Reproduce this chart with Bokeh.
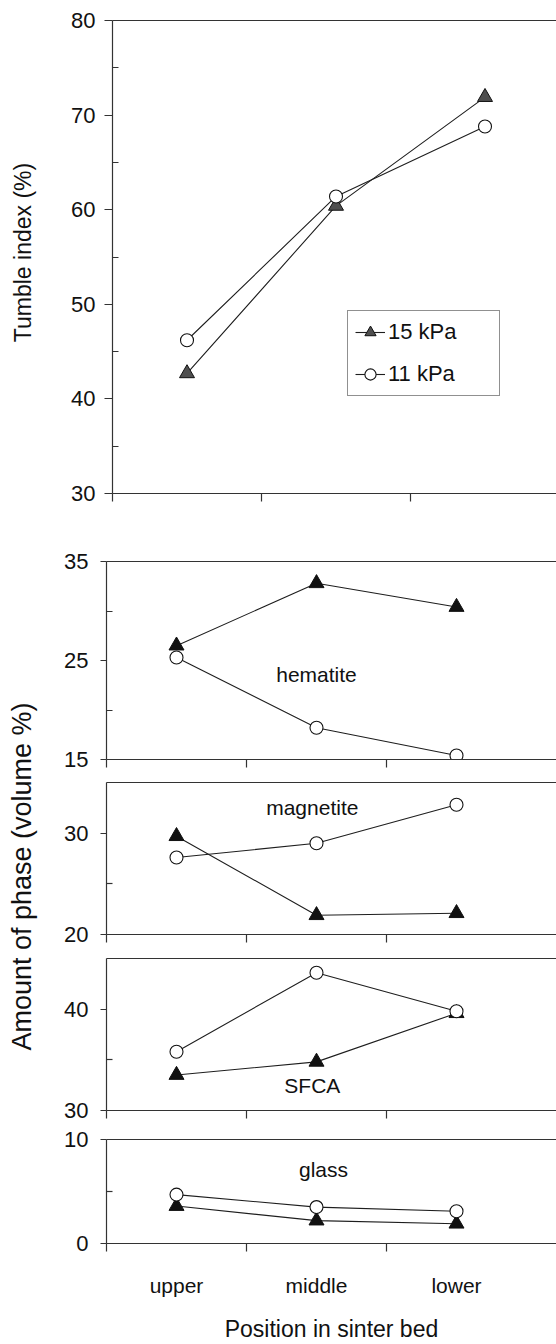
from bokeh.plotting import figure
from bokeh.layouts import column, row
from bokeh.models import Range1d, FixedTicker, Label, Legend, LegendItem, LinearAxis, Spacer
from bokeh.embed import file_html
from bokeh.resources import INLINE
import math

# ---------------- data ----------------
positions = ["upper", "middle", "lower"]
xpos = [1, 2, 3]
series_names = ["15 kPa", "11 kPa"]

tumble_15 = [42.7, 60.4, 71.9]
tumble_11 = [46.2, 61.4, 68.8]
hematite_15 = [26.5, 32.8, 30.4]
hematite_11 = [25.3, 18.2, 15.4]
magnetite_15 = [29.7, 21.9, 22.1]
magnetite_11 = [27.6, 29.0, 32.8]
sfca_15 = [33.5, 34.8, 39.6]
sfca_11 = [35.8, 43.6, 39.8]
glass_15 = [3.6, 2.2, 1.9]
glass_11 = [4.7, 3.5, 3.1]

y_title_top = "Tumble index (%)"
y_title_phase = "Amount of phase (volume %)"
x_title = "Position in sinter bed"

# ---------------- style ----------------
FONT = "Liberation Sans"
INK = "#1e1e1e"
AX = "#333333"
W_LEFT = 48
W = 508
SHIFT1 = 6      # extra left offset of the top panel
BORDER_L = 58

panels = [
    dict(name=None, s15=tumble_15, s11=tumble_11, y=(30, 80),
         major=[30, 40, 50, 60, 70, 80], minor=[35, 45, 55, 65, 75],
         top=20, h=520, bottom=27, unit=149, tri="#4f4f4f", tick_out=8, standoff=9),
    dict(name="hematite", lab=(2.0, 23.6), s15=hematite_15, s11=hematite_11, y=(15, 35),
         major=[15, 25, 35], minor=[20, 30],
         top=41, h=252, bottom=13, unit=140, tri="#111111", tick_out=6, standoff=12),
    dict(name="magnetite", lab=(1.97, 32.5), s15=magnetite_15, s11=magnetite_11, y=(20, 35),
         major=[20, 30], minor=[25],
         top=10, h=176, bottom=14, unit=140, tri="#111111", tick_out=6, standoff=12),
    dict(name="SFCA", lab=(1.97, 32.5), s15=sfca_15, s11=sfca_11, y=(30, 45),
         major=[30, 40], minor=[35],
         top=10, h=177, bottom=15, unit=140, tri="#111111", tick_out=6, standoff=12),
    dict(name="glass", lab=(2.05, 7.1), s15=glass_15, s11=glass_11, y=(0, 10),
         major=[0, 10], minor=[5],
         top=14, h=219, bottom=101, unit=140, tri="#111111", tick_out=6, standoff=12),
]


def style_axis(ax):
    ax.axis_line_color = AX
    ax.axis_line_width = 1.2
    ax.major_tick_line_color = AX
    ax.minor_tick_line_color = AX
    ax.major_tick_line_width = 1.2
    ax.minor_tick_line_width = 1.2
    ax.major_label_text_font = FONT
    ax.major_label_text_color = "#111111"


rows = []
for i, cfg in enumerate(panels):
    last = i == len(panels) - 1
    width = W - (SHIFT1 if i == 0 else 0)
    fw = width - BORDER_L
    x_end = 0.5 + fw / cfg["unit"]
    p = figure(width=width, height=cfg["h"],
               x_range=Range1d(0.5, x_end), y_range=Range1d(*cfg["y"]),
               x_axis_type=None, y_axis_type=None,
               output_backend="svg", toolbar_location=None,
               min_border_left=BORDER_L, min_border_right=0,
               min_border_top=cfg["top"], min_border_bottom=cfg["bottom"])
    p.outline_line_color = None
    p.background_fill_color = "white"
    p.border_fill_color = "white"

    # left axis
    yax = LinearAxis(ticker=FixedTicker(ticks=cfg["major"], minor_ticks=cfg["minor"]))
    style_axis(yax)
    yax.major_tick_in = 0
    yax.major_tick_out = cfg["tick_out"]
    yax.minor_tick_in = 6
    yax.minor_tick_out = 0
    yax.major_label_standoff = cfg["standoff"]
    yax.major_label_text_font_size = "22px"
    p.add_layout(yax, "left")

    # bottom axis
    xax = LinearAxis(ticker=FixedTicker(ticks=xpos if last else [],
                                        minor_ticks=[0.5, 1.5, 2.5]))
    style_axis(xax)
    xax.major_tick_in = 0
    xax.major_tick_out = 0
    xax.minor_tick_in = 0
    xax.minor_tick_out = 8
    if last:
        xax.major_label_overrides = {x: lab for x, lab in zip(xpos, positions)}
        xax.major_label_text_font_size = "21px"
        xax.major_label_standoff = 22
        xax.axis_label = x_title
        xax.axis_label_text_font = FONT
        xax.axis_label_text_font_size = "23px"
        xax.axis_label_text_font_style = "normal"
        xax.axis_label_text_color = "#111111"
        xax.axis_label_standoff = 16
    else:
        xax.major_label_text_font_size = "0px"
        xax.major_label_standoff = 0
    p.add_layout(xax, "below")

    # top frame line
    tax = LinearAxis(ticker=FixedTicker(ticks=[], minor_ticks=[]))
    style_axis(tax)
    tax.major_tick_in = 0
    tax.major_tick_out = 0
    tax.minor_tick_in = 0
    tax.minor_tick_out = 0
    tax.major_label_text_font_size = "0px"
    tax.major_label_standoff = 0
    p.add_layout(tax, "above")

    l15 = p.line(xpos, cfg["s15"], line_color=INK, line_width=1.1)
    l11 = p.line(xpos, cfg["s11"], line_color=INK, line_width=1.1)
    m15 = p.scatter(xpos, cfg["s15"], marker="triangle", size=15,
                    fill_color=cfg["tri"], line_color="#111111", line_width=1)
    m11 = p.scatter(xpos, cfg["s11"], marker="circle", size=13,
                    fill_color="white", line_color="#111111", line_width=1.1)

    if cfg["name"]:
        p.add_layout(Label(x=cfg["lab"][0], y=cfg["lab"][1], text=cfg["name"],
                           text_align="center", text_baseline="middle",
                           text_font=FONT, text_font_size="21px",
                           text_color="#111111"))

    if i == 0:
        legend = Legend(items=[LegendItem(label=series_names[0], renderers=[l15, m15]),
                               LegendItem(label=series_names[1], renderers=[l11, m11])],
                        location=(235, 97), orientation="vertical",
                        padding=7, spacing=14, margin=0,
                        glyph_width=30, glyph_height=28, label_standoff=3,
                        label_width=104,
                        label_text_font=FONT, label_text_font_size="22px",
                        label_text_color="#111111",
                        border_line_color="#222222", border_line_width=1.2,
                        background_fill_color="white", background_fill_alpha=1)
        p.add_layout(legend, "center")
        rows.append(row(Spacer(width=SHIFT1, height=cfg["h"]), p, spacing=0))
    else:
        rows.append(p)

# left column with rotated y titles
total_h = sum(c["h"] for c in panels)
lf = figure(width=W_LEFT, height=total_h, x_range=Range1d(0, W_LEFT),
            y_range=Range1d(0, total_h), x_axis_type=None, y_axis_type=None,
            output_backend="svg", toolbar_location=None,
            min_border_left=0, min_border_right=0, min_border_top=0, min_border_bottom=0)
lf.outline_line_color = None
lf.add_layout(Label(x=22, y=total_h - 252, text=y_title_top, angle=math.pi / 2,
                    text_align="center", text_baseline="middle",
                    text_font=FONT, text_font_size="23px", text_color="#111111"))
lf.add_layout(Label(x=21, y=total_h - 876, text=y_title_phase, angle=math.pi / 2,
                    text_align="center", text_baseline="middle",
                    text_font=FONT, text_font_size="27px", text_color="#111111"))

layout = row(lf, column(*rows, spacing=0), spacing=0)

open("out.html", "w").write(file_html(layout, INLINE))
